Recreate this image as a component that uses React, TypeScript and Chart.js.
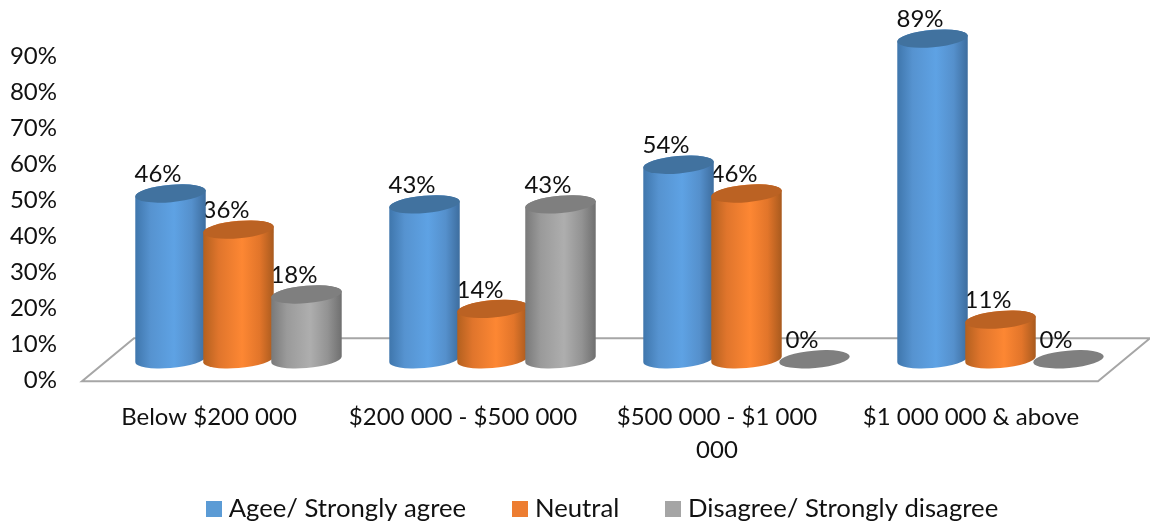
import React, { useEffect, useRef } from "react";
import { Chart, registerables } from "chart.js";

Chart.register(...registerables);

const categories = [
  "Below $200 000",
  "$200 000 - $500 000",
  ["$500 000 - $1 000", "000"],
  "$1 000 000 & above",
];
const agree = [46, 43, 54, 89];
const neutral = [36, 14, 46, 11];
const disagree = [18, 43, 0, 0];
const seriesNames = ["Agee/ Strongly agree", "Neutral", "Disagree/ Strongly disagree"];
const yTicks = [0, 10, 20, 30, 40, 50, 60, 70, 80, 90];

const FONT = "Lato, Carlito, sans-serif";
const TEXT = "#111111";
const FLOOR = "#a6a6a6";

// Swatch, side-shading and cap colours for each series.
const swatches = ["#5b9bd5", "#ed7d31", "#a5a5a5"];
const shadeStops = [0, 0.22, 0.55, 0.8, 1];
const shades = [
  ["#3f76ac", "#5693d0", "#5ea2e4", "#5590cc", "#3d6d9e"],
  ["#b3601f", "#e0752c", "#fd8733", "#e2752a", "#a85a1e"],
  ["#797979", "#9a9a9a", "#aeaeae", "#939393", "#6f6f6f"],
];
const caps = ["#41729f", "#bb6223", "#7f7f7f"];

// Depth projection of the 3D floor, in pixels.
const BAR_DEPTH_X = 29.5;
const BAR_DEPTH_Y = -21;
const FLOOR_DEPTH_X = 52;
const FLOOR_DEPTH_Y = -43;
const TILT = (-5 * Math.PI) / 180;
const CAP_RY = 8.7;

// Legend swatches are small canvases so that they can sit tight against their text.
function makeSwatch(color: string) {
  const c = document.createElement("canvas");
  c.width = 16;
  c.height = 16;
  const g = c.getContext("2d")!;
  g.fillStyle = color;
  g.fillRect(0, 0, 16, 16);
  return c;
}

function drawFloor(chart: Chart) {
  const { ctx } = chart;
  const { left, right } = chart.scales.x;
  const y0 = chart.scales.y.bottom + 1;
  ctx.save();
  ctx.strokeStyle = FLOOR;
  ctx.lineWidth = 2;
  ctx.beginPath();
  ctx.moveTo(left, y0);
  ctx.lineTo(right, y0);
  ctx.lineTo(right + FLOOR_DEPTH_X, y0 + FLOOR_DEPTH_Y);
  ctx.lineTo(left + FLOOR_DEPTH_X, y0 + FLOOR_DEPTH_Y);
  ctx.closePath();
  ctx.stroke();
  ctx.restore();
}

function drawValueLabels(chart: Chart) {
  const { ctx } = chart;
  ctx.save();
  ctx.font = `24px ${FONT}`;
  ctx.fillStyle = TEXT;
  ctx.textAlign = "center";
  ctx.textBaseline = "middle";
  chart.data.datasets.forEach((ds, i) => {
    chart.getDatasetMeta(i).data.forEach((el: any, j) => {
      ctx.fillText(`${ds.data[j]}%`, el.x + 17, el.y - 40);
    });
  });
  ctx.restore();
}

function drawCylinder(ctx: CanvasRenderingContext2D, el: any, series: number) {
  const cx = el.x + BAR_DEPTH_X;
  const rx = el.width / 2;
  const topY = el.y + BAR_DEPTH_Y;
  const baseY = el.base + BAR_DEPTH_Y;
  const t0 = Math.atan((-CAP_RY / rx) * Math.tan(TILT));

  if (baseY - topY > 0.5) {
    const grad = ctx.createLinearGradient(cx - rx, 0, cx + rx, 0);
    shades[series].forEach((c, k) => grad.addColorStop(shadeStops[k], c));
    ctx.fillStyle = grad;
    ctx.beginPath();
    ctx.ellipse(cx, baseY, rx, CAP_RY, TILT, t0, t0 + Math.PI);
    ctx.ellipse(cx, topY, rx, CAP_RY, TILT, t0 + Math.PI, t0 + 2 * Math.PI);
    ctx.closePath();
    ctx.fill();
  }
  ctx.fillStyle = caps[series];
  ctx.beginPath();
  ctx.ellipse(cx, topY, rx, CAP_RY, TILT, 0, 2 * Math.PI);
  ctx.fill();
}

const cylinderPlugin = {
  id: "cylinders",
  afterLayout(chart: any) {
    // The legend sits low in the canvas and right of centre.
    const legend = chart.legend;
    const height = legend.bottom - legend.top;
    legend.top = 444;
    legend.bottom = legend.top + height;
    legend.left += 56;
    legend.right += 56;
    // Room below the axis for the wrapped second line of a category label.
    chart.scales.x.bottom = 470;
  },
  beforeDatasetsDraw(chart: Chart) {
    drawFloor(chart);
    drawValueLabels(chart);
  },
  afterDatasetsDraw(chart: Chart) {
    chart.data.datasets.forEach((_, i) => {
      chart.getDatasetMeta(i).data.forEach((el) => drawCylinder(chart.ctx, el, i));
    });
  },
};

export default function App() {
  const ref = useRef<HTMLCanvasElement>(null);

  useEffect(() => {
    document.body.style.margin = "0";
    document.body.style.background = "#ffffff";
    const chart = new Chart(ref.current!, {
      type: "bar",
      data: {
        labels: categories as any,
        datasets: [agree, neutral, disagree].map((data, i) => ({
          label: seriesNames[i],
          data,
          backgroundColor: "transparent",
          borderWidth: 0,
          categoryPercentage: 0.803,
          barPercentage: 1.04,
        })),
      },
      options: {
        responsive: false,
        animation: false,
        layout: { padding: { left: 0, right: 52, top: 56, bottom: 0 } },
        plugins: {
          tooltip: { enabled: false },
          legend: {
            position: "bottom",
            labels: {
              font: { family: FONT, size: 25.7 },
              color: TEXT,
              usePointStyle: true,
              boxWidth: 4,
              boxHeight: 16,
              padding: 52,
              generateLabels: () =>
                seriesNames.map((text, i) => ({
                  text,
                  pointStyle: makeSwatch(swatches[i]),
                  fillStyle: swatches[i],
                  strokeStyle: swatches[i],
                  lineWidth: 0,
                  fontColor: TEXT,
                  datasetIndex: i,
                })),
            },
          },
        },
        scales: {
          x: {
            grid: { display: false },
            border: { display: false },
            ticks: {
              color: TEXT,
              font: { family: FONT, size: 24, lineHeight: 1.38 },
              padding: 12,
              maxRotation: 0,
              autoSkip: true,
            },
            afterFit: (scale: any) => {
              scale.height = 55;
            },
          },
          y: {
            min: 0,
            max: 90,
            afterBuildTicks: (scale: any) => {
              scale.ticks = yTicks.map((value) => ({ value }));
            },
            grid: { display: false },
            border: { display: false },
            ticks: {
              color: TEXT,
              font: { family: FONT, size: 24 },
              padding: 17,
              callback: (v: any) => `${v}%`,
            },
            afterFit: (scale: any) => {
              scale.width = 82;
            },
          },
        },
      },
      plugins: [cylinderPlugin],
    } as any);
    return () => chart.destroy();
  }, []);

  return <canvas ref={ref} width={1150} height={523} style={{ display: "block" }} />;
}
